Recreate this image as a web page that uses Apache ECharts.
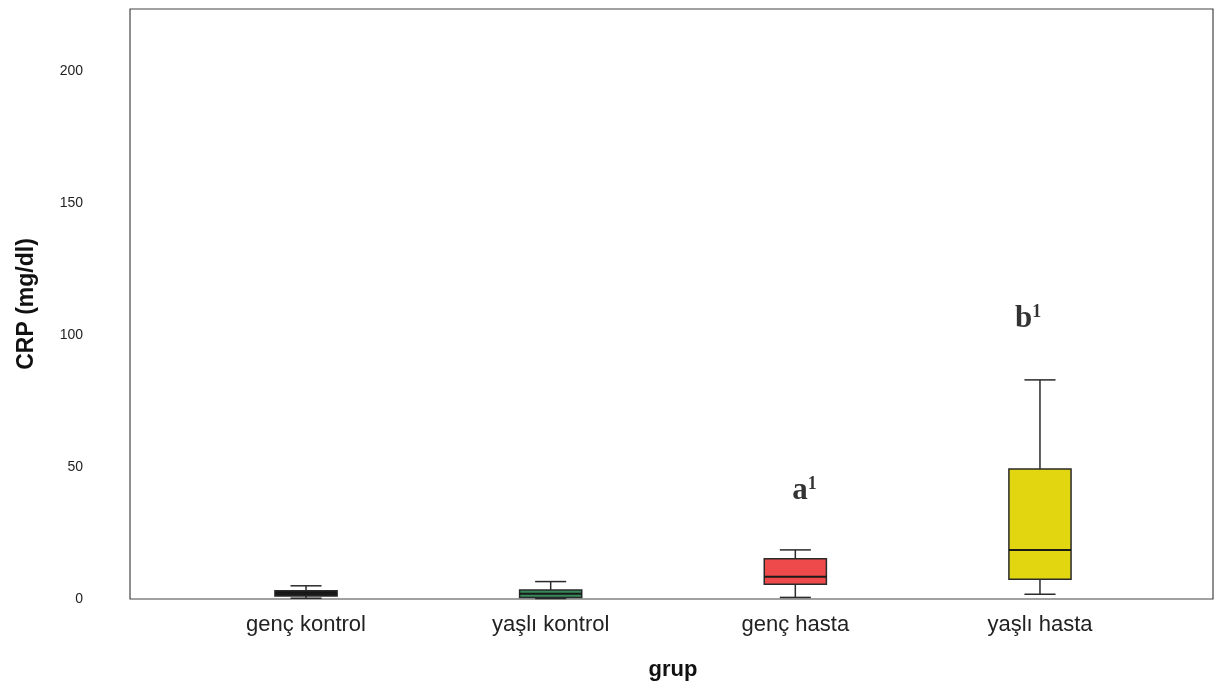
<!DOCTYPE html>
<html>
<head>
<meta charset="utf-8">
<script src="https://cdn.jsdelivr.net/npm/echarts@6/dist/echarts.min.js"></script>
<style>
  html, body { margin: 0; padding: 0; background: #fff; }
  #chart { width: 1216px; height: 688px; }
</style>
</head>
<body>
<div id="chart"></div>
<script>
// CRP (mg/dl) by group: five-number summaries per box
const categories = ['genç kontrol', 'yaşlı kontrol', 'genç hasta', 'yaşlı hasta'];
const whiskerLow  = [0.3, 0.2, 0.6, 1.8];
const q1Values    = [1.1, 0.6, 5.6, 7.5];
const medians     = [2.0, 2.0, 8.4, 18.6];
const q3Values    = [3.1, 3.4, 15.2, 49.2];
const whiskerHigh = [5.0, 6.6, 18.6, 83.0];

// Significance letters above the patient groups
const noteGroups  = ['genç hasta', 'yaşlı hasta'];
const noteLevels  = [41, 106];
const noteLetters = ['a', 'b'];
const noteSups    = ['1', '1'];

// Y scale
const yMin = 0;
const yMax = 223.5;
const yStep = 50;

// Styling
const boxColors = ['#151515', '#35895a', '#ee4a4b', '#e1d60f'];
const noteOffsets = [[-3, 0], [-25, 0]];
const lineColor = '#2a2a2a';

const boxRows = categories.map((c, i) =>
  [i, whiskerLow[i], q1Values[i], medians[i], q3Values[i], whiskerHigh[i]]);

function renderBox(params, api) {
  const i = api.value(0);
  const band = api.size([1, 0])[0];
  const half = band * 0.127;
  const capHalf = half * 0.5;
  const pLow = api.coord([i, api.value(1)]);
  const pQ1 = api.coord([i, api.value(2)]);
  const pMed = api.coord([i, api.value(3)]);
  const pQ3 = api.coord([i, api.value(4)]);
  const pHigh = api.coord([i, api.value(5)]);
  const x = pMed[0];
  const lineStyle = { stroke: lineColor, lineWidth: 1.5 };
  return {
    type: 'group',
    children: [
      { type: 'line', shape: { x1: x, y1: pHigh[1], x2: x, y2: pQ3[1] }, style: lineStyle },
      { type: 'line', shape: { x1: x, y1: pQ1[1], x2: x, y2: pLow[1] }, style: lineStyle },
      { type: 'line', shape: { x1: x - capHalf, y1: pHigh[1], x2: x + capHalf, y2: pHigh[1] }, style: lineStyle },
      { type: 'line', shape: { x1: x - capHalf, y1: pLow[1], x2: x + capHalf, y2: pLow[1] }, style: lineStyle },
      { type: 'rect', shape: { x: x - half, y: pQ3[1], width: half * 2, height: pQ1[1] - pQ3[1] },
        style: { fill: boxColors[i], stroke: lineColor, lineWidth: 1.5 } },
      { type: 'line', shape: { x1: x - half, y1: pMed[1], x2: x + half, y2: pMed[1] },
        style: { stroke: '#1a1a1a', lineWidth: 2 } }
    ]
  };
}

const chart = echarts.init(document.getElementById('chart'), null, { renderer: 'canvas' });

const sans = '"Liberation Sans", Arial, sans-serif';
const serif = '"Liberation Serif", "Times New Roman", serif';

chart.setOption({
  animation: false,
  backgroundColor: '#ffffff',
  grid: [
    { left: 183.7, right: 53.7, top: 9, bottom: 89 },
    { left: 130, right: 3, top: 9, bottom: 89, show: true,
      borderColor: '#444444', borderWidth: 1.2, backgroundColor: 'transparent' }
  ],
  xAxis: [
    {
      gridIndex: 0,
      type: 'category',
      data: categories,
      axisLine: { show: false },
      axisTick: { show: false },
      axisLabel: { fontFamily: sans, fontSize: 22, color: '#222', margin: 15 },
      name: 'grup',
      nameLocation: 'middle',
      nameGap: 60,
      nameTextStyle: { fontFamily: sans, fontSize: 22, fontWeight: 'bold', color: '#111' },
      splitLine: { show: false }
    },
    { gridIndex: 1, type: 'value', show: false }
  ],
  yAxis: [
    {
      gridIndex: 0,
      type: 'value',
      min: yMin,
      max: yMax,
      interval: yStep,
      offset: 53.7,
      axisLine: { show: false },
      axisTick: { show: false },
      splitLine: { show: false },
      axisLabel: { fontFamily: sans, fontSize: 14, color: '#222', margin: 47, showMaxLabel: false },
      name: 'CRP (mg/dl)',
      nameLocation: 'middle',
      nameGap: 92,
      nameTextStyle: { fontFamily: sans, fontSize: 23, fontWeight: 'bold', color: '#111' }
    },
    { gridIndex: 1, type: 'value', show: false }
  ],
  series: [
    {
      type: 'custom',
      xAxisIndex: 0,
      yAxisIndex: 0,
      renderItem: renderBox,
      encode: { x: 0, y: [1, 2, 3, 4, 5] },
      data: boxRows,
      z: 3
    },
    {
      type: 'scatter',
      xAxisIndex: 0,
      yAxisIndex: 0,
      symbolSize: 0,
      z: 4,
      data: noteGroups.map((g, k) => ({
        value: [g, noteLevels[k]],
        label: {
          show: true,
          position: 'inside',
          align: 'left',
          verticalAlign: 'middle',
          offset: noteOffsets[k],
          formatter: '{m|' + noteLetters[k] + '}{s|' + noteSups[k] + '}',
          rich: {
            m: { fontFamily: serif, fontWeight: 'bold', fontSize: 31, color: '#000' },
            s: { fontFamily: serif, fontWeight: 'bold', fontSize: 18, color: '#000', verticalAlign: 'top' }
          }
        }
      }))
    }
  ]
});
</script>
</body>
</html>
